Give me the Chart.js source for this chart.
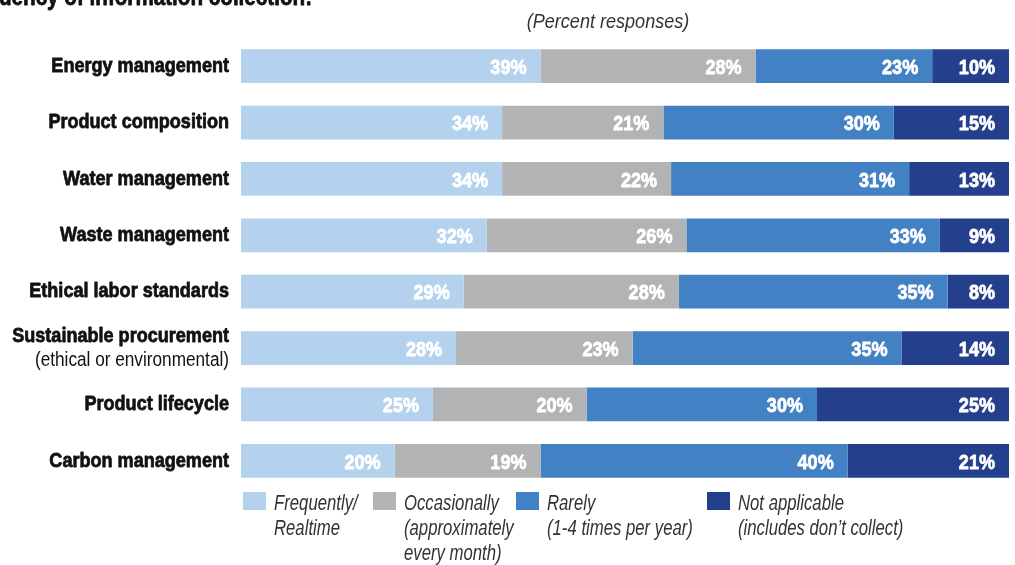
<!DOCTYPE html>
<html>
<head>
<meta charset="utf-8">
<script src="https://cdn.jsdelivr.net/npm/chart.js@4.4.0/dist/chart.umd.min.js"></script>
<style>
  html, body { margin: 0; padding: 0; background: #fff; }
  #wrap { position: relative; width: 1015px; height: 565px; overflow: hidden; }
</style>
</head>
<body>
<div id="wrap"><canvas id="chart" width="1015" height="565"></canvas></div>
<script>
// Frequency of information collection, by topic (percent responses)
const categories = [
  "Energy management",
  "Product composition",
  "Water management",
  "Waste management",
  "Ethical labor standards",
  ["Sustainable procurement", "(ethical or environmental)"],
  "Product lifecycle",
  "Carbon management"
];
const frequently   = [39, 34, 34, 32, 29, 28, 25, 20];
const occasionally = [28, 21, 22, 26, 28, 23, 20, 19];
const rarely       = [23, 30, 31, 33, 35, 35, 30, 40];
const notApplic    = [10, 15, 13,  9,  8, 14, 25, 21];

const seriesNames = [
  ["Frequently/", "Realtime"],
  ["Occasionally", "(approximately", "every month)"],
  ["Rarely", "(1-4 times per year)"],
  ["Not applicable", "(includes don\u2019t collect)"]
];
const colors = ["#b4d2ee", "#b2b3b5", "#4281c3", "#243f8c"];

const FONT = "'Liberation Sans', Arial, sans-serif";

// squeeze text horizontally to get a condensed face; heavy adds a thin outline
function drawText(ctx, s, x, y, align, sx = 0.86, heavy = false) {
  ctx.save();
  ctx.translate(x, y);
  ctx.scale(sx, 1);
  ctx.textAlign = align;
  if (heavy) {
    ctx.strokeStyle = ctx.fillStyle;
    ctx.lineWidth = 0.8;
    ctx.lineJoin = "round";
    ctx.strokeText(s, 0, 0);
  }
  ctx.fillText(s, 0, 0);
  ctx.restore();
}

// category labels on the left (bold title, optional plain second line)
const categoryLabels = {
  id: "categoryLabels",
  afterDraw(chart) {
    const { ctx, scales: { y } } = chart;
    ctx.save();
    ctx.fillStyle = "#111";
    ctx.textBaseline = "middle";
    categories.forEach((c, i) => {
      const cy = y.getPixelForValue(i);
      if (Array.isArray(c)) {
        ctx.font = "bold 21px " + FONT;
        drawText(ctx, c[0], 229, cy - 12, "right", 0.86, true);
        ctx.font = "20px " + FONT;
        drawText(ctx, c[1], 229, cy + 12, "right");
      } else {
        ctx.font = "bold 21px " + FONT;
        drawText(ctx, c, 229, cy, "right", 0.86, true);
      }
    });
    ctx.restore();
  }
};

// value labels, right-aligned inside each segment
const valueLabels = {
  id: "valueLabels",
  afterDatasetsDraw(chart) {
    const { ctx } = chart;
    ctx.save();
    ctx.fillStyle = "#fff";
    ctx.font = "bold 21px " + FONT;
    ctx.textBaseline = "middle";
    chart.data.datasets.forEach((ds, di) => {
      chart.getDatasetMeta(di).data.forEach((bar, i) => {
        drawText(ctx, ds.data[i] + "%", bar.x - 14, bar.y + 2, "right", 0.86, true);
      });
    });
    ctx.restore();
  }
};

// title, subtitle, legend and source line
const extras = {
  id: "extras",
  afterDraw(chart) {
    const { ctx } = chart;
    ctx.save();
    ctx.textBaseline = "alphabetic";
    ctx.fillStyle = "#111";
    ctx.font = "bold 24px " + FONT;
    drawText(ctx, "Frequency of information collection:", 312, 5, "right", 0.86, true);

    ctx.fillStyle = "#333";
    ctx.font = "italic 21px " + FONT;
    drawText(ctx, "(Percent responses)", 608, 28, "center");

    const boxX = [243, 373, 516, 707];
    ctx.font = "italic 22px " + FONT;
    seriesNames.forEach((lines, k) => {
      ctx.fillStyle = colors[k];
      ctx.fillRect(boxX[k], 492, 23, 18);
      ctx.fillStyle = "#333";
      lines.forEach((t, j) => {
        drawText(ctx, t, boxX[k] + 31, 510 + j * 25, "left", 0.76);
      });
    });

    ctx.font = "italic 19px " + FONT;
    drawText(ctx, "IBM Institute for Business Value 2009 CSR Study", 17, 578, "left");
    ctx.restore();
  }
};

const datasets = [frequently, occasionally, rarely, notApplic].map((d, k) => ({
  label: seriesNames[k].join(" "),
  data: d,
  backgroundColor: colors[k],
  borderWidth: 0,
  barPercentage: 0.6,
  categoryPercentage: 1
}));

new Chart(document.getElementById("chart"), {
  type: "bar",
  data: { labels: categories.map((c) => (Array.isArray(c) ? c[0] : c)), datasets },
  options: {
    indexAxis: "y",
    responsive: false,
    animation: false,
    layout: { padding: { left: 241, right: 6, top: 38, bottom: 76 } },
    scales: {
      x: { stacked: true, min: 0, max: 100, display: false },
      y: { stacked: true, display: false }
    },
    plugins: {
      legend: { display: false },
      tooltip: { enabled: false }
    }
  },
  plugins: [categoryLabels, valueLabels, extras]
});
</script>
</body>
</html>
